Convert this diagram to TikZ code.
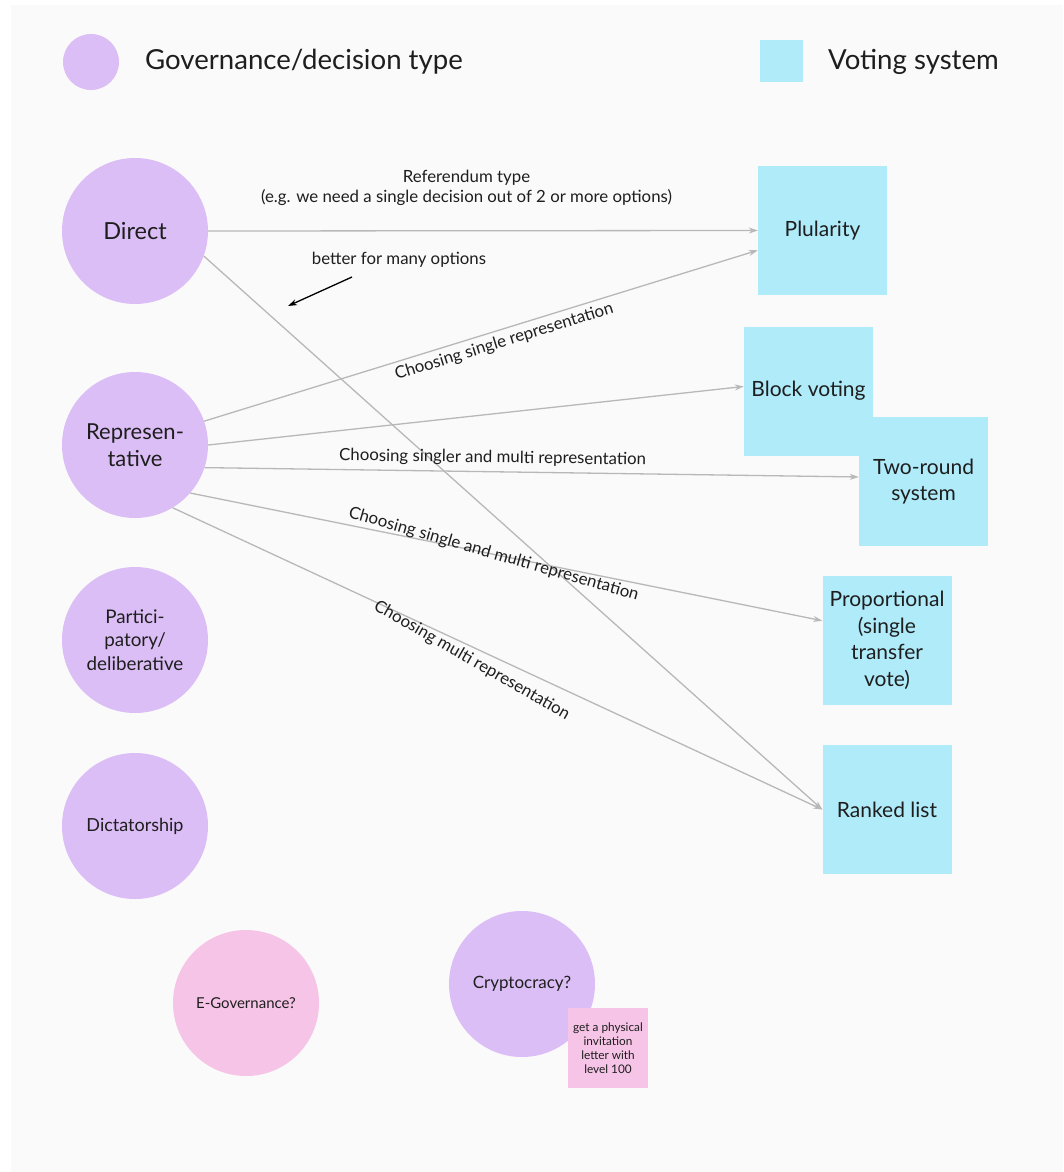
\documentclass[tikz,border=0pt]{standalone}
\usepackage{fontspec}
\setmainfont{Lato}
\usepackage{xcolor}
\usetikzlibrary{arrows.meta}
\definecolor{govpurple}{RGB}{220, 190, 246}
\definecolor{votecyan}{RGB}{176, 235, 250}
\definecolor{notepink}{RGB}{246, 196, 230}
\definecolor{linegray}{RGB}{184, 184, 184}
\definecolor{canvasgray}{RGB}{250, 250, 250}
\definecolor{inkgray}{RGB}{30, 30, 30}

\begin{document}
\begin{tikzpicture}[x=1pt, y=-1pt,
    govnode/.style={circle, fill=govpurple, minimum size=146pt, inner sep=0pt, align=center, text=inkgray},
    votebox/.style={rectangle, fill=votecyan, minimum width=129pt, minimum height=129pt, inner sep=0pt, align=center, text=inkgray, font=\fontsize{21}{26.5}\selectfont},
    link/.style={draw=linegray, line width=1.3pt, -{Stealth[length=9pt, width=6pt]}},
    linklabel/.style={font=\fontsize{16.8}{20}\selectfont, text=inkgray},
    keytext/.style={anchor=west, inner sep=0pt, font=\fontsize{27.6}{30}\selectfont, text=inkgray}]
    \fill[canvasgray] (11,5) rectangle (1063,1172);
    \useasboundingbox (0,0) rectangle (1063,1172);

    % legend
    \node[govnode, minimum size=56pt] (keygov) at (91,62) {};
    \node[keytext] (keygovtext) at (145,62) {Governance/decision type};
    \node[votebox, minimum width=43pt, minimum height=42pt] (keyvote) at (781.5,61) {};
    \node[keytext] (keyvotetext) at (828,62) {Voting system};

    % governance types
    \node[govnode, font=\fontsize{23.5}{27}\selectfont] (direct) at (135,231) {Direct};
    \node[govnode, font=\fontsize{22}{27}\selectfont] (repr) at (135,445) {Represen-\\tative};
    \node[govnode, font=\fontsize{18.8}{23.5}\selectfont] (partic) at (135,640) {Partici-\\patory/\\deliberative};
    \node[govnode, font=\fontsize{18}{22}\selectfont] (dictat) at (135,826) {Dictatorship};
    \node[govnode, fill=notepink, font=\fontsize{15}{20}\selectfont] (egov) at (246,1003) {E-Governance?};
    \node[govnode, font=\fontsize{17}{21}\selectfont] (crypto) at (522,984) {Cryptocracy?};
    \node[fill=notepink, minimum size=80pt, inner sep=0pt, align=center, text=inkgray, font=\fontsize{11.8}{14}\selectfont] (invite) at (608,1048) {get a physical\\invitation\\letter with\\level 100};

    % voting systems
    \node[votebox] (plurality) at (822.5,230.5) {Plularity};
    \node[votebox] (block) at (808.5,391) {Block voting};
    \node[votebox] (tworound) at (923.5,481.5) {Two-round\\system};
    \node[votebox] (proport) at (887,640.5) {Proportional\\(single\\transfer\\vote)};
    \node[votebox] (ranked) at (887,809.5) {Ranked list};

    \draw[link] (direct.east) -- node[linklabel, above=21pt, pos=0.47, align=center] {Referendum type\\(e.g. we need a single decision out of 2 or more options)} (plurality.west);
    \draw[link] (direct.-20) -- (ranked.west);
    \draw[link] (repr.19) -- node[linklabel, sloped, below=1pt, pos=0.535] {Choosing single representation} (plurality.197);
    \draw[link] (repr.0) -- (block.176);
    \draw[link] (repr.-18) -- node[linklabel, sloped, above=2pt, pos=0.44] {Choosing singler and multi representation} (tworound.176);
    \draw[link] (repr.-41) -- node[linklabel, sloped, pos=0.48, rotate=-4.6] {Choosing single and multi representation} (proport.163);
    \draw[link] (repr.-59) -- node[linklabel, sloped, below=1pt, pos=0.47, rotate=-5] {Choosing multi representation} (ranked.west);

    % hint
    \node[linklabel] (hint) at (399,260) {better for many options};
    \coordinate (hinttail) at (352,277);
    \coordinate (hinthead) at (288,306);
    \draw[line width=1.3pt, -{Stealth[length=9pt, width=6pt]}] (hinttail) -- (hinthead);
\end{tikzpicture}
\end{document}
